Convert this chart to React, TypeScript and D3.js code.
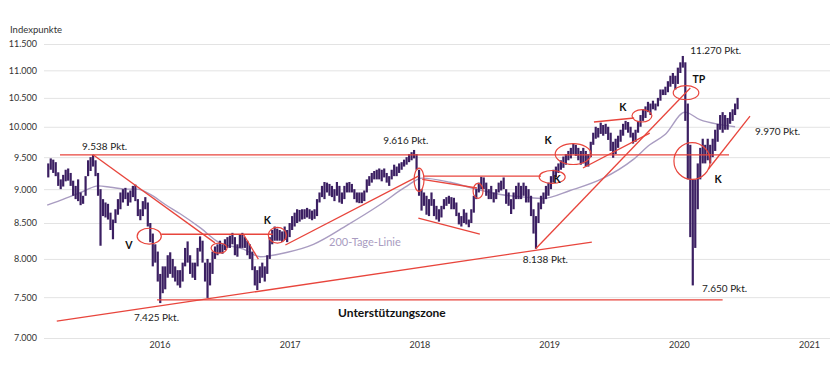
import { useEffect, useRef } from 'react';
import * as d3 from 'd3';

const FONT = 'Lato, "Noto Sans", sans-serif';

// weekly high / low, first week starting 2015-03-30
const firstWeek = '2015-03-30';
const weeklyHigh = [
  9400, 9480, 9460, 9420, 9260, 9150, 9220, 9300, 9320, 9250,
  9130, 9050, 9150, 8950, 8900, 9200, 9450, 9500, 9538, 9450,
  9250, 9000, 8850, 8800, 8780, 8650, 8550, 8700, 8850, 8950,
  9000, 9020, 8950, 8980, 9050, 9070, 8850, 8700, 8820, 8880,
  8800, 8500, 8350, 8200, 8100, 7800, 7900, 7900, 8050, 8090,
  8000, 7900, 7850, 7850, 7950, 8150, 8240, 8050, 7950, 7950,
  8150, 8310, 8250, 7950, 8000, 7950, 8100, 8170, 8200, 8250,
  8200, 8270, 8300, 8320, 8360, 8300, 8200, 8340, 8360, 8300,
  8250, 8200, 8100, 7900, 7850, 7900, 7950, 7900, 8050, 8300,
  8400, 8450, 8420, 8400, 8380, 8450, 8400, 8500, 8600, 8650,
  8700, 8690, 8700, 8700, 8720, 8700, 8680, 8700, 8850, 8950,
  9050, 9110, 9100, 9080, 9050, 9000, 9110, 9050, 8950, 9050,
  9100, 9110, 9080, 9000, 8950, 8950, 8950, 8980, 9150, 9200,
  9250, 9280, 9300, 9320, 9300, 9320, 9250, 9200, 9300, 9380,
  9350, 9400, 9420, 9460, 9500, 9550, 9580, 9616, 9550, 9300,
  9000, 8950, 8900, 8850, 8950, 8850, 8750, 8700, 8750, 8850,
  8880, 8900, 8880, 8870, 8800, 8650, 8600, 8700, 8650, 8550,
  8700, 8900, 9000, 9100, 9190, 9180, 9100, 9000, 9050, 8950,
  9000, 9100, 9130, 9180, 9000, 8950, 8850, 8950, 9050, 9100,
  9050, 9100, 9050, 9000, 8900, 8700, 8600, 8800, 8900, 8950,
  9050, 9100, 9200, 9300, 9350, 9400, 9450, 9510, 9550, 9600,
  9650, 9720, 9700, 9650, 9600, 9650, 9600, 9550, 9750, 9900,
  10000, 9980, 10070, 10030, 10050, 10000, 9900, 9750, 9800, 9850,
  9950, 10050, 10100, 10080, 10000, 9900, 9950, 10100, 10200, 10300,
  10350, 10430, 10400, 10450, 10400, 10500, 10650, 10650, 10700, 10800,
  10900, 10950, 10900, 11050, 11150, 11270, 11150, 10400, 9700, 9150,
  9150, 9400, 9650, 9800, 9700, 9800, 9700, 9800, 9950, 10050,
  10200, 10250, 10200, 10150, 10250, 10300, 10400, 10500,
];
const weeklyLow = [
  9180, 9300, 9250, 9200, 9050, 9000, 9040, 9120, 9130, 9050,
  8900, 8850, 8820, 8760, 8780, 8900, 9200, 9280, 9350, 9200,
  8900, 8180, 8600, 8580, 8550, 8400, 8270, 8500, 8620, 8700,
  8800, 8850, 8750, 8800, 8880, 8820, 8600, 8540, 8600, 8700,
  8450, 8230, 7900, 7950, 7700, 7425, 7550, 7600, 7750, 7800,
  7750, 7700, 7650, 7620, 7700, 7900, 7950, 7800, 7750, 7720,
  7900, 8100, 7950, 7700, 7490, 7650, 7800, 8000, 8050, 8080,
  8070, 8120, 8150, 8150, 8200, 8050, 8030, 8150, 8150, 8150,
  8050, 8000, 7850, 7650, 7590, 7680, 7750, 7700, 7800, 8000,
  8200, 8250, 8250, 8250, 8230, 8260, 8230, 8300, 8400, 8450,
  8500, 8520, 8550, 8560, 8580, 8560, 8540, 8560, 8600, 8800,
  8880, 8850, 8950, 8900, 8880, 8820, 8900, 8800, 8780, 8850,
  8950, 8950, 8950, 8850, 8800, 8790, 8790, 8820, 8950, 9050,
  9100, 9150, 9150, 9150, 9120, 9180, 9100, 9050, 9150, 9200,
  9200, 9250, 9300, 9350, 9380, 9420, 9450, 9480, 9300, 8900,
  8680, 8750, 8620, 8600, 8750, 8600, 8550, 8520, 8580, 8700,
  8750, 8780, 8700, 8700, 8600, 8480, 8450, 8500, 8480, 8440,
  8500, 8650, 8850, 8950, 9000, 9000, 8900, 8850, 8850, 8800,
  8850, 8950, 8980, 9000, 8780, 8750, 8630, 8700, 8850, 8850,
  8850, 8900, 8800, 8800, 8600, 8350, 8138, 8500, 8700, 8780,
  8850, 8900, 9000, 9100, 9180, 9250, 9300, 9330, 9380, 9450,
  9480, 9550, 9520, 9450, 9380, 9400, 9350, 9350, 9500, 9700,
  9800, 9820, 9880, 9850, 9880, 9780, 9600, 9490, 9550, 9650,
  9750, 9850, 9950, 9900, 9820, 9720, 9750, 9900, 10000, 10100,
  10150, 10250, 10200, 10300, 10280, 10350, 10450, 10550, 10550, 10600,
  10700, 10750, 10650, 10750, 10950, 11050, 10100, 9150, 8300, 7650,
  8150, 8700, 9150, 9400, 9400, 9450, 9400, 9500, 9600, 9750,
  9950, 9900, 9950, 9950, 10050, 10100, 10200, 10300,
];

// 200-Tage-Linie
const maDates = [
  '2015-03-29', '2015-05-05', '2015-06-10', '2015-07-14', '2015-08-19', '2015-09-23',
  '2015-11-03', '2015-12-07', '2016-01-13', '2016-02-24', '2016-04-07', '2016-06-02',
  '2016-07-23', '2016-10-01', '2016-11-17', '2017-02-02', '2017-04-16', '2017-07-20',
  '2017-10-21', '2017-12-30', '2018-02-16', '2018-05-06', '2018-07-21', '2018-09-24',
  '2018-12-02', '2019-01-22', '2019-04-08', '2019-07-09', '2019-10-02', '2019-11-18',
  '2019-12-31', '2020-02-25', '2020-04-07', '2020-06-03', '2020-07-15',
];
const maValues = [
  8760, 8830, 8905, 8980, 9050, 9030,
  9000, 9000, 8920, 8770, 8630, 8430,
  8230, 8133, 8030, 8090, 8200, 8470,
  8770, 9030, 9170, 9105, 8996, 8920,
  8880, 8860, 8980, 9165, 9460, 9700,
  9870, 10250, 10120, 10036, 10000,
];

const yTicks = [7000, 7500, 8000, 8500, 9000, 9500, 10000, 10500, 11000, 11500];
const years = ['2016', '2017', '2018', '2019', '2020', '2021'];

// red trend lines: start date, start value, end date, end value
const trendLines: [string, number, string, number][] = [
  ['2015-05-04', 9538, '2020-06-28', 9538],
  ['2015-08-05', 9538, '2016-07-13', 8220],
  ['2016-02-13', 8340, '2016-12-22', 8340],
  ['2016-10-01', 8340, '2016-11-12', 7997],
  ['2017-01-27', 8190, '2018-02-05', 9200],
  ['2018-02-19', 9200, '2019-01-16', 9200],
  ['2018-02-16', 9149, '2018-07-20', 9018],
  ['2018-02-05', 8571, '2018-07-28', 8343],
  ['2015-04-25', 7202, '2019-06-08', 8231],
  ['2016-02-01', 7465, '2020-06-10', 7465],
  ['2019-01-01', 8138, '2020-03-11', 10676],
  ['2019-05-14', 9327, '2019-11-18', 9894],
  ['2019-06-14', 10081, '2019-10-05', 10149],
  ['2020-04-30', 9304, '2020-08-26', 10183],
];

// red ellipses: left date, right date, top value, bottom value
const ellipses: [string, string, number, number][] = [
  ['2015-12-07', '2016-02-13', 8425, 8202],
  ['2016-07-02', '2016-08-16', 8216, 8079],
  ['2016-12-10', '2017-01-30', 8439, 8216],
  ['2018-01-24', '2018-02-21', 9327, 8966],
  ['2018-07-09', '2018-08-06', 9087, 8861],
  ['2019-01-11', '2019-03-25', 9288, 9087],
  ['2019-02-25', '2019-06-06', 9720, 9383],
  ['2019-09-29', '2019-11-24', 10293, 10081],
  ['2020-01-23', '2020-04-04', 10720, 10467],
  ['2020-01-25', '2020-05-06', 9737, 9149],
];

// annotations: text, date, value, kind
const notes: [string, string, number, string][] = [
  ['9.538 Pkt.', '2015-07-05', 9623, 'pkt'],
  ['7.425 Pkt.', '2015-11-28', 7202, 'pkt'],
  ['9.616 Pkt.', '2017-10-29', 9713, 'pkt'],
  ['8.138 Pkt.', '2018-11-26', 7944, 'pkt'],
  ['11.270 Pkt.', '2020-03-11', 11307, 'pkt'],
  ['7.650 Pkt.', '2020-04-13', 7565, 'pkt'],
  ['9.970 Pkt.', '2020-09-09', 9869, 'pkt'],
  ['V', '2015-11-14', 8133, 'mark'],
  ['K', '2016-12-07', 8482, 'mark'],
  ['K', '2019-02-05', 9713, 'mark'],
  ['K', '2019-03-02', 9087, 'mark'],
  ['K', '2019-09-03', 10270, 'mark'],
  ['TP', '2020-04-04', 10767, 'mark'],
  ['K', '2020-05-28', 9091, 'mark'],
  ['200-Tage-Linie', '2017-05-30', 8174, 'ma'],
  ['Unterstützungszone', '2017-06-24', 7252, 'zone'],
];

export default function App() {
  const svgRef = useRef<SVGSVGElement>(null);

  useEffect(() => {
    if (!svgRef.current) return;
    const svg = d3.select(svgRef.current);
    svg.selectAll('*').remove();

    const parse = d3.timeParse('%Y-%m-%d');
    const p = (s: string) => parse(s) as Date;

    const x = d3.scaleTime().domain([p('2015-03-20'), p('2021-04-08')]).range([44, 830]);
    const y = d3.scaleLog().domain([7000, 11500]).range([338, 44]);
    const de = d3.formatLocale({ decimal: ',', thousands: '.', grouping: [3], currency: ['', ' €'] });
    const fmt = de.format(',');

    const red = '#e8453c';
    const barColor = '#3b1f62';
    const maColor = '#a99cc1';

    // grid + y labels
    const yAxis = svg
      .append('g')
      .attr('transform', 'translate(44,0)')
      .call(
        d3.axisLeft(y)
          .tickValues(yTicks)
          .tickSize(-786)
          .tickPadding(7)
          .tickFormat((d) => fmt(d as number))
      );
    yAxis.attr('font-family', FONT).attr('font-size', 9);
    yAxis.select('.domain').remove();
    yAxis.selectAll('line').attr('stroke', '#e3e3e3');
    yAxis.selectAll('text').attr('fill', '#333');

    svg
      .append('text')
      .attr('x', 10)
      .attr('y', 33)
      .attr('font-family', FONT)
      .attr('font-size', 9.5)
      .attr('fill', '#333')
      .text('Indexpunkte');

    // year labels
    svg
      .append('g')
      .selectAll('text')
      .data(years)
      .join('text')
      .attr('x', (d) => x(p(`${d}-01-01`)) + 14)
      .attr('y', 348)
      .attr('text-anchor', 'middle')
      .attr('font-family', FONT)
      .attr('font-size', 9)
      .attr('fill', '#333')
      .text((d) => d);

    // 200-day line
    const ma = maDates.map((d, i) => ({ date: p(d), value: maValues[i] }));
    svg
      .append('path')
      .datum(ma)
      .attr('fill', 'none')
      .attr('stroke', maColor)
      .attr('stroke-width', 1.4)
      .attr('d', d3.line<{ date: Date; value: number }>()
        .x((d) => x(d.date))
        .y((d) => y(d.value))
        .curve(d3.curveMonotoneX));

    // weekly high-low bars
    const start = p(firstWeek);
    const bars = weeklyHigh.map((h, i) => ({
      date: d3.timeDay.offset(start, i * 7 + 2),
      high: h,
      low: weeklyLow[i],
    }));
    svg
      .append('g')
      .selectAll('line')
      .data(bars)
      .join('line')
      .attr('x1', (d) => x(d.date))
      .attr('x2', (d) => x(d.date))
      .attr('y1', (d) => y(d.high))
      .attr('y2', (d) => y(d.low))
      .attr('stroke', barColor)
      .attr('stroke-width', 2.2);

    // trend lines
    svg
      .append('g')
      .selectAll('line')
      .data(trendLines)
      .join('line')
      .attr('x1', (d) => x(p(d[0])))
      .attr('y1', (d) => y(d[1]))
      .attr('x2', (d) => x(p(d[2])))
      .attr('y2', (d) => y(d[3]))
      .attr('stroke', red)
      .attr('stroke-width', 1.3);

    // ellipses
    svg
      .append('g')
      .selectAll('ellipse')
      .data(ellipses)
      .join('ellipse')
      .attr('cx', (d) => (x(p(d[0])) + x(p(d[1]))) / 2)
      .attr('cy', (d) => (y(d[2]) + y(d[3])) / 2)
      .attr('rx', (d) => (x(p(d[1])) - x(p(d[0]))) / 2)
      .attr('ry', (d) => (y(d[3]) - y(d[2])) / 2)
      .attr('fill', 'none')
      .attr('stroke', red)
      .attr('stroke-width', 1.2);

    // annotations
    const styles: Record<string, { size: number; weight: string; fill: string; anchor: string }> = {
      pkt: { size: 10, weight: 'normal', fill: '#222', anchor: 'start' },
      mark: { size: 10.5, weight: 'bold', fill: '#111', anchor: 'middle' },
      ma: { size: 11, weight: 'normal', fill: maColor, anchor: 'start' },
      zone: { size: 12, weight: 'bold', fill: '#111', anchor: 'start' },
    };
    svg
      .append('g')
      .selectAll('text')
      .data(notes)
      .join('text')
      .attr('x', (d) => x(p(d[1])))
      .attr('y', (d) => y(d[2]))
      .attr('font-family', FONT)
      .attr('font-size', (d) => styles[d[3]].size)
      .attr('font-weight', (d) => styles[d[3]].weight)
      .attr('fill', (d) => styles[d[3]].fill)
      .attr('text-anchor', (d) => styles[d[3]].anchor)
      .text((d) => d[0]);
  }, []);

  return (
    <svg
      ref={svgRef}
      width={840}
      height={372}
      style={{ position: 'absolute', left: 0, top: 0, background: '#fff' }}
    />
  );
}
